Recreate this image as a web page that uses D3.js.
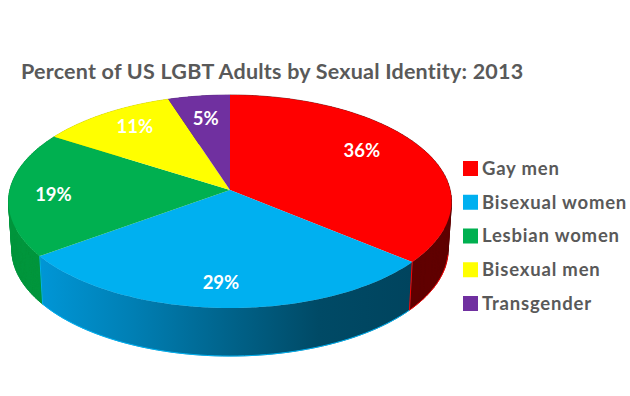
<!DOCTYPE html>
<html>
<head>
<meta charset="utf-8">
<script src="https://cdn.jsdelivr.net/npm/d3@7"></script>
<style>
    html, body { margin: 0; background: #fff; }
    text { font-family: Lato, sans-serif; font-weight: 700; }
</style>
</head>
<body>
<div id="chart_div"></div>
<script>
const categories = ["Gay men", "Bisexual women", "Lesbian women", "Bisexual men", "Transgender"];
const shares = [36, 29, 19, 11, 5];
const colors = ["#ff0000", "#00b0f0", "#00b050", "#ffff00", "#7030a0"];
const sideColors = ["#600000", "url(#blueSide)", "#00963c", "#c8c800", "#502078"];
const footColors = ["#ff0000", "#00b0f0", "#00963c", "none", "none"];

const width = 630;
const height = 396;

// Tilted disc: apex of the pie and the perspective of the ellipse
const apex = { x: 230, y: 190 };
const radiusX = 220.2;
const radiusY = 105.3;
const tilt = -0.108;
const depth = 48;
const baseShrink = 0.985;

const project = (angle, r = 1) => {
    const u = r * Math.sin(angle);
    const v = -r * Math.cos(angle);
    const w = 1 + tilt * v;
    return [apex.x + radiusX * u / w, apex.y + radiusY * v / w];
};
const lowered = ([x, y]) => [apex.x + (x - apex.x) * baseShrink, y + depth];

const rim = (a0, a1) => d3.range(0, 61).map(i => project(a0 + (a1 - a0) * i / 60));
const line = d3.line();

const svg = d3.select("#chart_div")
    .append("svg")
    .attr("width", width)
    .attr("height", height);

const grad = svg.append("defs").append("linearGradient")
    .attr("id", "blueSide")
    .attr("gradientUnits", "userSpaceOnUse")
    .attr("x1", 40).attr("x2", 411).attr("y1", 0).attr("y2", 0);
grad.selectAll("stop")
    .data([[0, "#0096d6"], [0.25, "#007fb4"], [0.5, "#00648c"], [0.75, "#004a66"], [1, "#00445e"]])
    .enter()
    .append("stop")
    .attr("offset", d => d[0])
    .attr("stop-color", d => d[1]);

const slices = d3.pie().sort(null).value(d => d)(shares);

// Walls: small quads in one path, all wound the same way so no seams or holes show
const wall = (d) => {
    const top = rim(d.startAngle, d.endAngle);
    return top.slice(1).map((p, j) => {
        const quad = [top[j], p, lowered(p), lowered(top[j])];
        return line(d3.polygonArea(quad) < 0 ? quad.reverse() : quad) + "Z";
    }).join("");
};

const walls = svg.append("g");
walls.selectAll("path.wall")
    .data(slices)
    .enter()
    .append("path")
    .attr("class", "wall")
    .attr("d", wall)
    .attr("fill", (d, i) => sideColors[i])
    .attr("stroke", (d, i) => sideColors[i])
    .attr("stroke-width", 0.6);

// Thin bright edge along the front of the foot and at the end of each slice
const frontStart = Math.PI * 0.55;
const frontEnd = Math.PI * 1.45;
walls.selectAll("path.foot")
    .data(slices)
    .enter()
    .append("path")
    .attr("class", "foot")
    .attr("d", d => {
        const a0 = Math.max(d.startAngle, frontStart);
        const a1 = Math.min(d.endAngle, frontEnd);
        return a1 > a0 ? line(rim(a0, a1).map(lowered)) : null;
    })
    .attr("fill", "none")
    .attr("stroke", (d, i) => footColors[i])
    .attr("stroke-width", 1);
walls.selectAll("path.seam")
    .data(slices)
    .enter()
    .append("path")
    .attr("class", "seam")
    .attr("d", d => line([project(d.endAngle), lowered(project(d.endAngle))]))
    .attr("stroke", (d, i) => footColors[i])
    .attr("stroke-width", 1);

// Top of the pie
svg.append("g")
    .selectAll("path")
    .data(slices)
    .enter()
    .append("path")
    .attr("d", d => line([[apex.x, apex.y]].concat(rim(d.startAngle, d.endAngle))) + "Z")
    .attr("fill", (d, i) => colors[i]);

// Data labels, pulled by hand where the original was dragged
const labelNudge = [[-22, -5], [-3, 0], [0, 2], [6, -1], [1, 5]];
svg.append("g")
    .selectAll("text")
    .data(slices)
    .enter()
    .append("text")
    .attr("x", (d, i) => project((d.startAngle + d.endAngle) / 2, 0.8)[0] + labelNudge[i][0])
    .attr("y", (d, i) => project((d.startAngle + d.endAngle) / 2, 0.8)[1] + labelNudge[i][1])
    .attr("dy", "0.35em")
    .attr("text-anchor", "middle")
    .attr("font-size", 18.5)
    .attr("fill", "#fff")
    .text(d => d.value + "%");

svg.append("text")
    .attr("x", 21)
    .attr("y", 79)
    .attr("font-size", 21.5)
    .attr("letter-spacing", 0.22)
    .attr("fill", "#595959")
    .text("Percent of US LGBT Adults by Sexual Identity: 2013");

// Legend
const legendY = d3.scalePoint().domain(categories).range([168.5, 303.5]);
const legend = svg.append("g").attr("id", "legend");
legend.selectAll("rect")
    .data(categories)
    .enter()
    .append("rect")
    .attr("x", 463)
    .attr("y", d => legendY(d) - 7.5)
    .attr("width", 15)
    .attr("height", 15)
    .attr("fill", (d, i) => colors[i]);
legend.selectAll("text")
    .data(categories)
    .enter()
    .append("text")
    .attr("x", 482)
    .attr("y", d => legendY(d))
    .attr("dy", "0.35em")
    .attr("font-size", 18.5)
    .attr("letter-spacing", 0.8)
    .attr("fill", "#595959")
    .text(d => d);
</script>
</body>
</html>
